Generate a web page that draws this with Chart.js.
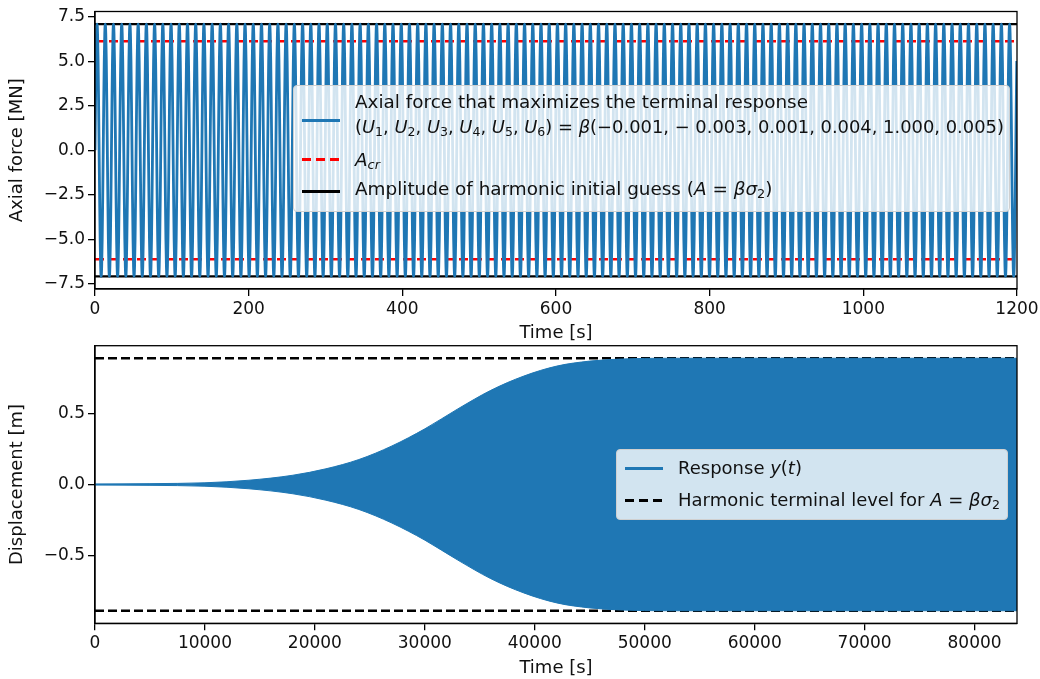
<!DOCTYPE html>
<html lang="en">
<head>
  <meta charset="UTF-8" />
  <title>Axial force and terminal response</title>
  <script src="https://cdn.jsdelivr.net/npm/chart.js"></script>
  <style>
    body { margin: 0; background: #fff; font-family: "DejaVu Sans", sans-serif; }
    #wrap { position: relative; width: 1040px; height: 679px; }
    .panel { position: absolute; left: 0; }
    #forcePanel { top: 0; }
    #respPanel { top: 340px; }
    .legend {
      position: absolute;
      box-sizing: border-box;
      background: rgba(255, 255, 255, 0.8);
      border: 1px solid #d0d0d0;
      border-radius: 4px;
      color: #111;
    }
    .legend .row { position: absolute; left: 61px; white-space: nowrap; line-height: 20px; }
    .legend .handle { position: absolute; left: 8px; width: 38px; height: 2.6px; }
    .legend sub { font-size: 70%; vertical-align: -0.25em; line-height: 0; }
  </style>
</head>
<body>
<div id="wrap">
  <div class="panel" id="forcePanel"><canvas id="forceChart" width="1040" height="345"></canvas></div>
  <div class="panel" id="respPanel"><canvas id="respChart" width="1040" height="339"></canvas></div>

  <div class="legend" style="left:293px; top:85px; width:717px; height:127px; font-size:18.4px;">
    <div class="handle" style="top:33px; background:#1f77b4;"></div>
    <div class="row" style="top:6px;">Axial force that maximizes the terminal response</div>
    <div class="row" style="top:31px; font-size:17.9px;">(<i>U</i><sub>1</sub>, <i>U</i><sub>2</sub>, <i>U</i><sub>3</sub>, <i>U</i><sub>4</sub>, <i>U</i><sub>5</sub>, <i>U</i><sub>6</sub>) = <i>β</i>(−0.001, − 0.003, 0.001, 0.004, 1.000, 0.005)</div>
    <div class="handle" style="top:72px; background:repeating-linear-gradient(to right, red 0 9px, transparent 9px 14px);"></div>
    <div class="row" style="top:64px;"><i>A</i><sub><i>cr</i></sub></div>
    <div class="handle" style="top:104px; background:#000;"></div>
    <div class="row" style="top:93px;">Amplitude of harmonic initial guess (<i>A</i> = <i>βσ</i><sub>2</sub>)</div>
  </div>

  <div class="legend" style="left:616px; top:449px; width:392px; height:71px; font-size:18px;">
    <div class="handle" style="top:17px; background:#1f77b4;"></div>
    <div class="row" style="top:8px;">Response <i>y</i>(<i>t</i>)</div>
    <div class="handle" style="top:49px; background:repeating-linear-gradient(to right, #000 0 9px, transparent 9px 14px);"></div>
    <div class="row" style="top:40px;">Harmonic terminal level for <i>A</i> = <i>βσ</i><sub>2</sub></div>
  </div>
</div>

<script>
  // Upper panel: axial force
  const forceTicksX = [0, 200, 400, 600, 800, 1000, 1200];
  const forceTicksY = [-7.5, -5.0, -2.5, 0.0, 2.5, 5.0, 7.5];
  const forceEnd = 1200;
  const forceLimit = 7.79;
  const forcePeriod = 10.7;   // s between force peaks
  const forceCycle = [0, 2.71, 5.01, 6.54, 7.08, 6.54, 5.01, 2.71,
                      0, -2.71, -5.01, -6.54, -7.08, -6.54, -5.01, -2.71];
  const criticalAmp = 6.12;   // A_cr
  const guessAmp = 7.08;      // A = beta * sigma_2

  // Lower panel: displacement response (envelope of the fast oscillation)
  const respTicksX = [0, 10000, 20000, 30000, 40000, 50000, 60000, 70000, 80000];
  const respTicksY = [-0.5, 0.0, 0.5];
  const respEnd = 83860;
  const respLimit = 0.973;
  const envTime = [0, 5000, 10000, 14000, 18000, 21000, 24000, 27000, 30000,
                   33000, 36000, 39000, 42000, 45000, 48000, 52000, 60000, 83860];
  const envAmp = [0.004, 0.006, 0.012, 0.03, 0.065, 0.11, 0.175, 0.27, 0.39,
                  0.53, 0.66, 0.76, 0.83, 0.865, 0.88, 0.885, 0.885, 0.885];
  const terminalLevel = 0.885;

  const blue = '#1f77b4';

  Chart.defaults.font.family = "'DejaVu Sans', sans-serif";
  Chart.defaults.font.size = 17;
  Chart.defaults.color = '#111';
  Chart.defaults.animation = false;

  // repeat the sampled force cycle over the whole record
  const forcePoints = [];
  const dt = forcePeriod / forceCycle.length;
  for (let k = 0; k * dt <= forceEnd; k++) {
    forcePoints.push({ x: k * dt, y: forceCycle[k % forceCycle.length] });
  }

  const upperEnv = envTime.map((t, i) => ({ x: t, y: envAmp[i] }));
  const lowerEnv = envTime.map((t, i) => ({ x: t, y: -envAmp[i] }));

  const hline = (y, end) => [{ x: 0, y: y }, { x: end, y: y }];

  // full box around the plot area, like matplotlib spines
  const frame = {
    id: 'frame',
    afterDraw(chart) {
      const { ctx, chartArea: a } = chart;
      ctx.save();
      ctx.strokeStyle = '#000';
      ctx.lineWidth = 1.3;
      ctx.strokeRect(a.left, a.top, a.right - a.left, a.bottom - a.top);
      ctx.restore();
    }
  };

  function xAxis(ticks, max, height, titlePad) {
    return {
      type: 'linear', min: 0, max: max,
      afterBuildTicks: s => { s.ticks = ticks.map(v => ({ value: v })); },
      afterFit: s => { s.height = height; s.paddingLeft = 0; s.paddingRight = 0; },
      ticks: { callback: v => String(v), maxRotation: 0, autoSkip: false, padding: 3 },
      grid: { drawOnChartArea: false, tickLength: 7, color: '#000', lineWidth: 1.3 },
      border: { color: '#000', width: 1.3 },
      title: { display: true, text: 'Time [s]', font: { size: 18 }, padding: { top: 0, bottom: titlePad } }
    };
  }

  function yAxis(ticks, lim, title) {
    return {
      type: 'linear', min: -lim, max: lim,
      afterBuildTicks: s => { s.ticks = ticks.map(v => ({ value: v })); },
      afterFit: s => { s.width = 95; s.paddingTop = 0; s.paddingBottom = 0; },
      ticks: { callback: v => v.toFixed(1).replace('-', '\u2212'), padding: 3, autoSkip: false },
      grid: { drawOnChartArea: false, tickLength: 7, color: '#000', lineWidth: 1.3 },
      border: { color: '#000', width: 1.3 },
      title: { display: true, text: title, font: { size: 18 }, padding: { top: 7, bottom: 0 } }
    };
  }

  const line = (data, color, width, dash) => ({
    data: data, borderColor: color, borderWidth: width, borderDash: dash || [],
    pointRadius: 0, fill: false
  });

  new Chart(document.getElementById('forceChart'), {
    type: 'line',
    data: {
      datasets: [
        Object.assign(line(forcePoints, blue, 2.8), { cubicInterpolationMode: 'monotone' }),
        line(hline(criticalAmp, forceEnd), 'red', 2.6, [9, 5]),
        line(hline(-criticalAmp, forceEnd), 'red', 2.6, [9, 5]),
        line(hline(guessAmp, forceEnd), '#000', 2.4),
        line(hline(-guessAmp, forceEnd), '#000', 2.4)
      ]
    },
    options: {
      responsive: false,
      layout: { padding: { left: 0, right: 23, top: 11.5, bottom: 0 } },
      plugins: { legend: { display: false }, tooltip: { enabled: false } },
      scales: {
        x: xAxis(forceTicksX, forceEnd, 56, 1),
        y: yAxis(forceTicksY, forceLimit, 'Axial force [MN]')
      }
    },
    plugins: [frame]
  });

  new Chart(document.getElementById('respChart'), {
    type: 'line',
    data: {
      datasets: [
        Object.assign(line(upperEnv, blue, 1), { fill: '+1', backgroundColor: blue, cubicInterpolationMode: 'monotone' }),
        Object.assign(line(lowerEnv, blue, 1), { cubicInterpolationMode: 'monotone' }),
        line(hline(terminalLevel, respEnd), '#000', 2.6, [9, 4]),
        line(hline(-terminalLevel, respEnd), '#000', 2.6, [9, 4])
      ]
    },
    options: {
      responsive: false,
      layout: { padding: { left: 0, right: 23, top: 5.7, bottom: 0 } },
      plugins: { legend: { display: false }, tooltip: { enabled: false } },
      scales: {
        x: xAxis(respTicksX, respEnd, 55.7, 0),
        y: yAxis(respTicksY, respLimit, 'Displacement [m]')
      }
    },
    plugins: [frame]
  });
</script>
</body>
</html>
